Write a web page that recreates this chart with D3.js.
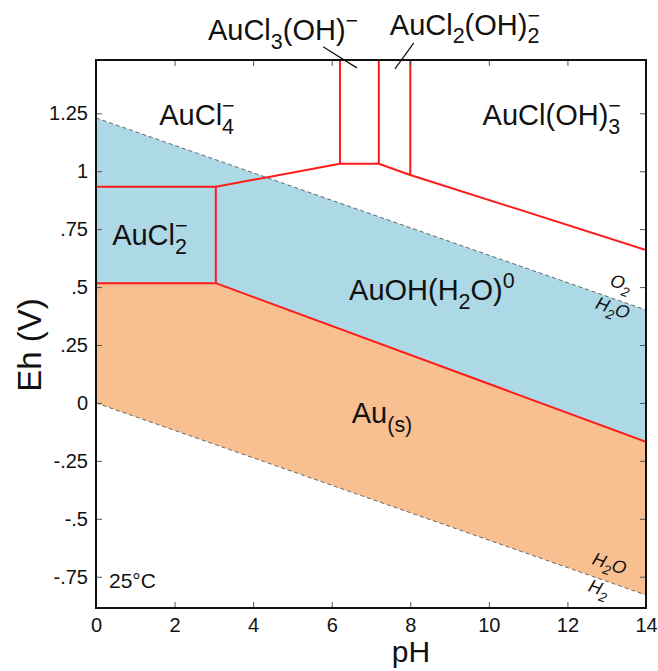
<!DOCTYPE html>
<html><head><meta charset="utf-8">
<script src="https://cdn.jsdelivr.net/npm/d3@7/dist/d3.min.js"></script>
<style>
body{margin:0;background:#fff;}
text{font-family:"Liberation Sans",Arial,Helvetica,sans-serif;fill:#111;}
</style></head>
<body><svg id="chart" width="658" height="671"></svg>
<script>
// ---- data ----
const pHDomain = [0, 14];
const EhDomain = [-0.885, 1.48];
const pHTicks = [0, 2, 4, 6, 8, 10, 12, 14];
const EhTicks = [1.25, 1, 0.75, 0.5, 0.25, 0, -0.25, -0.5, -0.75];
const EhTickLabels = ["1.25", "1", ".75", ".5", ".25", "0", "-.25", "-.5", "-.75"];

const waterO2 = [[0, 1.23], [14, 0.401]];
const waterH2 = [[0, 0], [14, -0.829]];

const bndCl4Cl2 = [[0, 0.933], [3.05, 0.933]];
const bndCl2Au = [[0, 0.517], [3.05, 0.517]];
const bndCl2OH = [[3.05, 0.517], [3.05, 0.933]];
const bndUpper = [[3.05, 0.933], [6.21, 1.032], [7.2, 1.032], [8, 0.984], [14, 0.66]];
const bndV1 = [[6.21, 1.032], [6.21, 1.48]];
const bndV2 = [[7.2, 1.032], [7.2, 1.48]];
const bndV3 = [[8, 0.984], [8, 1.48]];
const bndOHAu = [[3.05, 0.517], [14, -0.168]];

const leader1 = [[5.78, 1.537], [6.64, 1.446]];
const leader2 = [[8.09, 1.554], [7.61, 1.442]];

// labels: [pH, Eh, parts]
const speciesLabels = [
  [2.57, 1.20, [["AuCl","n"],["4","-","ss"]]],
  [11.6, 1.20, [["AuCl(OH)","n"],["3","-","ss"]]],
  [1.37, 0.682, [["AuCl","n"],["2","-","ss"]]],
  [8.55, 0.445, [["AuOH(H","n"],["2","sub"],["O)","n"],["0","sup"]]],
  [7.28, -0.086, [["Au","n"],["(s)","sub"]]],
  [4.76, 1.567, [["AuCl","n"],["3","sub"],["(OH)","n"],["\u2212","sup"]]],
  [9.39, 1.589, [["AuCl","n"],["2","sub"],["(OH)","n"],["2","-","ss"]]]
];
const tempLabel = [0.33, -0.80, "25°C"];
const waterLabels = [
  [13.32, 0.492, [["O","n"],["2","sub"]]],
  [13.1, 0.385, [["H","n"],["2","sub"],["O","n"]]],
  [13.02, -0.718, [["H","n"],["2","sub"],["O","n"]]],
  [12.76, -0.826, [["H","n"],["2","sub"]]]
];

// ---- layout ----
const M = {left: 96, right: 646, top: 60, bottom: 608};
const x = d3.scaleLinear().domain(pHDomain).range([M.left, M.right]);
const y = d3.scaleLinear().domain(EhDomain).range([M.bottom, M.top]);
const svg = d3.select("#chart");

svg.append("clipPath").attr("id","clip").append("rect")
  .attr("x", M.left).attr("y", M.top).attr("width", M.right-M.left).attr("height", M.bottom-M.top);

const plot = svg.append("g").attr("clip-path","url(#clip)");
const line = d3.line().x(d => x(d[0])).y(d => y(d[1]));

// regions
const bluePoly = [...waterO2, [14, bndOHAu[1][1]], bndOHAu[0], [0, bndCl2Au[0][1]]];
const orangePoly = [...bndCl2Au, ...bndOHAu.slice(1), ...waterH2.slice().reverse()];
plot.append("path").attr("d", line(bluePoly) + "Z").attr("fill", "#add8e6");
plot.append("path").attr("d", line(orangePoly) + "Z").attr("fill", "#f8c090");

// water lines
[waterO2, waterH2].forEach(w => plot.append("path").attr("d", line(w))
  .attr("fill","none").attr("stroke","#666").attr("stroke-width",1).attr("stroke-dasharray","4,3"));

// boundaries
[bndCl4Cl2, bndCl2Au, bndCl2OH, bndUpper, bndV1, bndV2, bndV3, bndOHAu].forEach(b =>
  plot.append("path").attr("d", line(b)).attr("fill","none").attr("stroke","#ff1a1a")
    .attr("stroke-width",2).attr("stroke-linejoin","miter"));

// axes with inward ticks on all four sides
const tl = 6;
const axB = d3.axisBottom(x).tickValues(pHTicks).tickSize(-tl).tickPadding(10).tickFormat(d3.format("d"));
const axT = d3.axisTop(x).tickValues(pHTicks).tickSize(-tl).tickFormat("");
const axL = d3.axisLeft(y).tickValues(EhTicks).tickSize(-tl).tickPadding(8).tickFormat((d,i) => EhTickLabels[i]);
const axR = d3.axisRight(y).tickValues(EhTicks).tickSize(-tl).tickFormat("");
function styleAxis(g){
  g.select(".domain").remove();
  g.selectAll(".tick line").attr("stroke","#555").attr("stroke-width",1);
  g.selectAll(".tick text").attr("font-size",20).attr("fill","#111")
   .attr("font-family","Liberation Sans, Arial, sans-serif");
}
svg.append("g").attr("transform",`translate(0,${M.bottom})`).call(axB).call(styleAxis);
svg.append("g").attr("transform",`translate(0,${M.top})`).call(axT).call(styleAxis);
svg.append("g").attr("transform",`translate(${M.left},0)`).call(axL).call(styleAxis);
svg.append("g").attr("transform",`translate(${M.right},0)`).call(axR).call(styleAxis);

// frame
svg.append("rect").attr("x",M.left).attr("y",M.top).attr("width",M.right-M.left).attr("height",M.bottom-M.top)
  .attr("fill","none").attr("stroke","#111").attr("stroke-width",2);

// axis titles
svg.append("text").attr("x", 411).attr("y",662).attr("text-anchor","middle")
  .attr("font-size",30).text("pH");
svg.append("text").attr("transform",`translate(41,345) rotate(-90)`)
  .attr("text-anchor","middle").attr("font-size",33).text("Eh (V)");

// chemical label helper
function chem(g, cx, cy, parts, size, opts={}){
  const t = g.append("text").attr("x",0).attr("y",0).attr("font-size",size);
  if (opts.italic) t.attr("font-style","italic");
  let lvl = 0;
  const small = size*0.74, subD = size*0.3, supD = -size*0.42;
  parts.forEach(p => {
    const [s, kind] = p;
    if (kind === "n") {
      t.append("tspan").attr("dy", -lvl).attr("font-size", size).text(s); lvl = 0;
    } else if (kind === "sub") {
      t.append("tspan").attr("dy", subD - lvl).attr("font-size", small).text(s); lvl = subD;
    } else if (kind === "sup") {
      t.append("tspan").attr("dy", supD - lvl).attr("font-size", small).text(s); lvl = supD;
    } else {
      const sub = t.append("tspan").attr("dy", subD - lvl).attr("font-size", small).text(s); lvl = subD;
      const w = sub.node().getComputedTextLength();
      t.append("tspan").attr("dx", -w).attr("dy", supD - lvl).attr("font-size", small).text("\u2212"); lvl = supD;
    }
  });
  const bb = t.node().getBBox();
  const grp = g.append("g");
  grp.node().appendChild(t.node());
  t.attr("x", -bb.width/2);
  grp.attr("transform", `translate(${cx},${cy})` + (opts.rotate ? ` rotate(${opts.rotate})` : ""));
  return grp;
}

const lab = svg.append("g");
speciesLabels.forEach(([ph, eh, parts]) => chem(lab, x(ph), y(eh), parts, 29));

svg.append("text").attr("x", x(tempLabel[0])).attr("y", y(tempLabel[1])).attr("font-size",21).text(tempLabel[2]);

const ang = Math.atan2(y(waterO2[1][1]) - y(waterO2[0][1]), x(14) - x(0)) * 180 / Math.PI;
waterLabels.forEach(([ph, eh, parts]) => chem(lab, x(ph), y(eh), parts, 18, {italic:true, rotate: ang}));

// leaders
[leader1, leader2].forEach(l => svg.append("path").attr("d", line(l)).attr("stroke","#111").attr("stroke-width",1.2).attr("fill","none"));
</script></body></html>
